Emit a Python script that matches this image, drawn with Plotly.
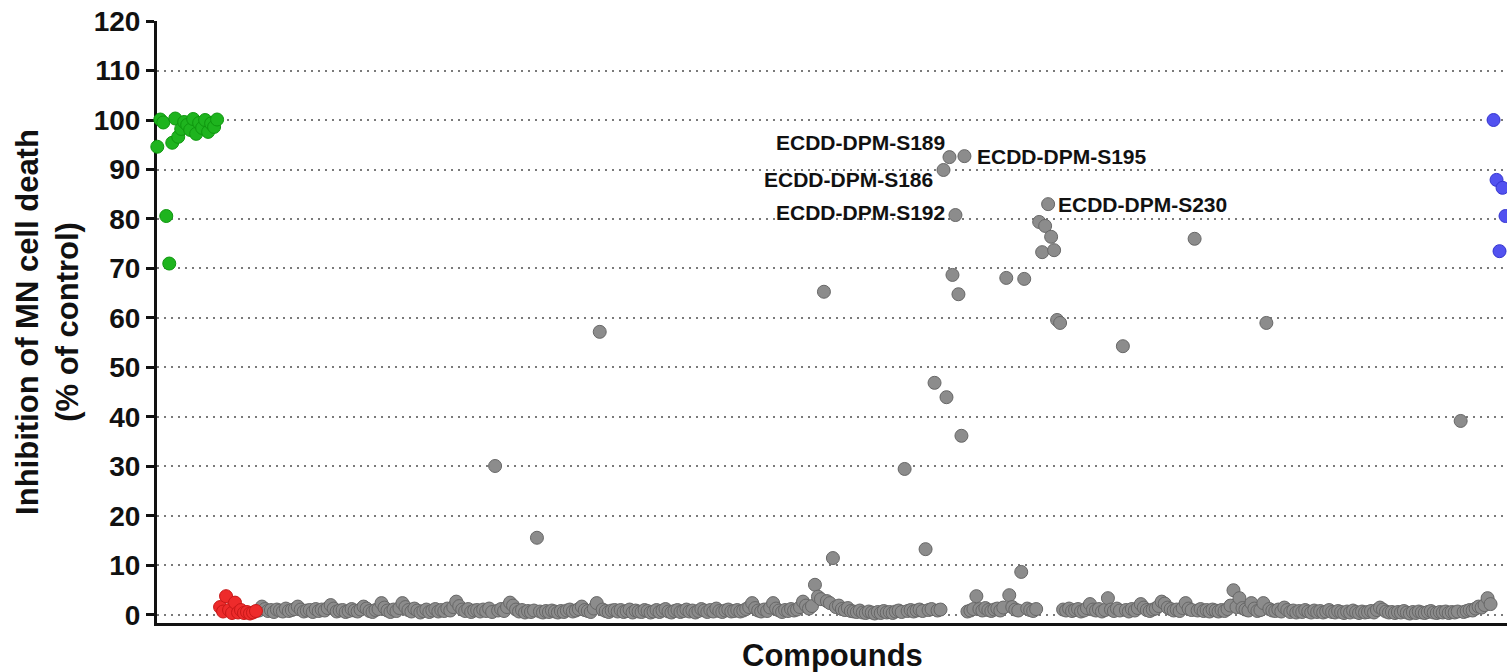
import plotly.graph_objects as go

# ---------------- data ----------------
# x = compound order index, y = inhibition of MN cell death (% of control)
green_idx = list(range(1, 22))
green_values = [94.6, 100.1, 99.5, 80.6, 71.0, 95.4, 100.3, 96.6, 98.2, 99.6, 99.0,
                98.0, 100.2, 97.2, 99.4, 98.4, 100.0, 97.6, 99.3, 98.6, 100.1]

red_idx = list(range(22, 35))
red_values = [1.6, 0.7, 3.8, 1.0, 0.4, 2.5, 0.5, 1.0, 0.4, 0.6, 0.3, 0.5, 0.8]

grey_start = 35
grey_values = [
    0.9, 1.7, 1.2, 0.8, 1.0, 0.6, 1.1, 0.9, 0.7, 1.3, 0.8, 1.0, 1.2, 1.7, 1.1, 0.7, 0.9, 1.0, 0.6, 1.2,
    0.8, 1.1, 0.9, 1.4, 2.0, 1.3, 0.7, 0.9, 1.0, 0.6, 0.8, 1.2, 0.9, 0.7, 1.1, 1.7, 1.3, 0.8, 0.6, 1.0,
    1.2, 2.4, 1.5, 0.9, 0.6, 1.1, 0.8, 1.4, 2.4, 1.6, 1.0, 0.7, 1.3, 0.9, 0.5, 0.8, 1.1, 0.6, 0.9, 1.2,
    0.7, 1.0, 0.8, 1.3, 0.9, 1.6, 2.7, 1.8, 1.1, 0.8, 1.2, 0.6, 0.9, 1.0, 0.7, 1.1, 0.8, 1.3, 0.6, 30.1,
    0.9, 1.2, 0.8, 1.6, 2.5, 1.9, 1.1, 0.7, 1.0, 0.5, 0.8, 0.6, 0.9, 15.6, 0.7, 0.5, 0.8, 0.6, 0.9, 0.7,
    0.5, 0.8, 0.6, 0.9, 1.1, 0.7, 0.9, 1.2, 1.7, 1.0, 0.8, 0.6, 1.3, 2.4, 57.2, 1.1, 0.8, 0.6, 0.9, 1.0,
    0.7, 1.0, 0.6, 0.8, 1.1, 0.5, 0.9, 0.7, 0.6, 1.0, 0.8, 0.5, 0.7, 1.0, 0.6, 0.9, 1.2, 0.7, 0.5, 0.8,
    1.0, 0.6, 0.8, 1.1, 0.7, 0.9, 0.5, 0.8, 1.2, 0.9, 0.6, 1.0, 0.7, 1.3, 0.8, 0.6, 0.9, 1.1, 0.7, 0.8,
    1.0, 0.7, 0.9, 1.2, 1.6, 2.4, 1.4, 0.9, 0.7, 1.1, 0.8, 1.5, 2.4, 1.3, 0.9, 0.6, 1.0, 0.8, 1.2, 0.9,
    1.1, 1.6, 2.7, 1.9, 1.3, 1.8, 6.1, 3.7, 3.2, 65.3, 2.8, 2.4, 11.5, 1.6, 1.9, 1.2, 1.0, 1.4, 0.8, 0.7,
    0.6, 0.9, 0.5, 0.4, 0.7, 0.5, 0.3, 0.6, 0.4, 0.8, 0.5, 0.6, 0.4, 0.7, 0.9, 0.6, 29.5, 0.8, 1.0, 0.7,
    0.9, 1.1, 0.8, 13.3, 1.0, 1.2, 46.9, 0.9, 1.1, 89.9, 44.0, 92.5, 68.7, 80.8, 64.8, 36.2, 92.7, 0.7, 0.9, 1.2,
    3.8, 1.2, 0.9, 1.4, 1.0, 0.8, 1.1, 1.3, 0.9, 1.5, 68.1, 4.0, 1.6, 1.1, 0.9, 8.7, 67.9, 1.3, 1.0, 0.8,
    1.2, 79.4, 73.3, 78.6, 83.0, 76.4, 73.7, 59.6, 59.0, 1.1, 0.9, 1.3, 0.8, 1.0, 1.2, 0.7, 0.9, 1.4, 2.2, 1.1,
    0.9, 1.2, 0.7, 1.0, 3.4, 1.1, 0.8, 1.3, 0.9, 54.3, 1.0, 0.7, 1.2, 0.9, 1.4, 2.2, 1.5, 1.0, 0.8, 1.1,
    1.3, 1.8, 2.7, 2.3, 1.5, 1.2, 0.9, 1.1, 0.8, 1.4, 2.4, 1.3, 1.0, 76.0, 0.9, 1.2, 0.8, 1.0, 0.7, 1.1,
    0.9, 0.7, 1.0, 0.8, 1.2, 1.9, 5.0, 1.6, 3.4, 1.4, 1.1, 0.9, 2.4, 1.3, 0.8, 1.0, 2.4, 59.0, 1.2, 0.9,
    0.8, 1.1, 0.7, 1.5, 1.0, 0.6, 0.9, 0.5, 0.8, 0.6, 1.0, 0.7, 0.5, 0.9, 0.6, 0.8, 0.5, 0.7, 1.0, 0.6,
    0.5, 0.8, 0.6, 0.4, 0.7, 0.5, 0.9, 0.6, 0.4, 0.7, 0.5, 0.6, 0.8, 0.5, 1.0, 1.5, 1.1, 0.7, 0.5, 0.6,
    0.4, 0.6, 0.5, 0.8, 0.5, 0.3, 0.6, 0.4, 0.7, 0.5, 0.4, 0.6, 0.8, 0.5, 0.4, 0.6, 0.5, 0.7, 0.4, 0.6,
    0.5, 0.7, 39.2, 0.6, 0.8, 1.0, 0.9, 1.3, 1.7, 1.5, 2.0, 3.4, 2.2,
]
grey_idx = list(range(grey_start, grey_start + len(grey_values)))

blue_idx = [448, 449, 450, 451, 452]
blue_values = [100.0, 87.9, 73.5, 86.3, 80.6]

# labelled compounds: name -> compound index
label_names = ["ECDD-DPM-S189", "ECDD-DPM-S195", "ECDD-DPM-S186", "ECDD-DPM-S192", "ECDD-DPM-S230"]
label_idx = [266, 271, 264, 268, 299]

y_ticks = list(range(0, 121, 10))

# ---------------- figure ----------------
FONT = "Liberation Sans, Arial, Helvetica, sans-serif"

fig = go.Figure()

def add_group(xs, ys, fill, edge):
    fig.add_trace(go.Scatter(
        x=xs, y=ys, mode="markers", cliponaxis=False, showlegend=False,
        marker=dict(size=13, color=fill, line=dict(color=edge, width=1)),
    ))

add_group(grey_idx, grey_values, "#8c8c8c", "#676767")
add_group(red_idx, red_values, "#ee2b2b", "#c81818")
add_group(green_idx, green_values, "#1eb41e", "#0e960e")
add_group(blue_idx, blue_values, "#5252f0", "#3535d0")

# label placement styles (anchor, x shift, y shift)
label_style = {
    "ECDD-DPM-S189": ("right", -2, 15),
    "ECDD-DPM-S195": ("left", 11, 0),
    "ECDD-DPM-S186": ("right", -9, -10),
    "ECDD-DPM-S192": ("right", -8, 3),
    "ECDD-DPM-S230": ("left", 8, 0),
}
for name, idx in zip(label_names, label_idx):
    anchor, xs, ys = label_style[name]
    fig.add_annotation(
        x=idx, y=grey_values[idx - grey_start], xref="x", yref="y",
        text=name, showarrow=False, xanchor=anchor, yanchor="middle",
        xshift=xs, yshift=ys,
        font=dict(family=FONT, size=21, color="#111111", weight="bold"),
    )

fig.add_annotation(
    x=0.5, y=0, xref="paper", yref="paper", yshift=-32,
    text="Compounds", showarrow=False, xanchor="center", yanchor="middle",
    font=dict(family=FONT, size=31, color="#111111", weight="bold"),
)

fig.update_layout(
    width=1507, height=672,
    margin=dict(l=157, r=0, t=21, b=49),
    paper_bgcolor="white", plot_bgcolor="white",
    font=dict(family=FONT, color="#111111"),
    xaxis=dict(
        range=[0.9, 452.5], showgrid=False, zeroline=False,
        showticklabels=False, ticks="",
        showline=True, linecolor="#111111", linewidth=3,
    ),
    yaxis=dict(
        range=[-1.62, 120], tickvals=y_ticks, zeroline=False,
        showgrid=True, gridcolor="#7a7a7a", gridwidth=2, griddash="2px,5px",
        showline=True, linecolor="#111111", linewidth=3, layer="below traces",
        ticks="outside", ticklen=8, tickwidth=3, tickcolor="#111111",
        tickfont=dict(family=FONT, size=28, color="#111111", weight="bold"),
        title=dict(
            text="Inhibition of MN cell death<br>(% of control)",
            font=dict(family=FONT, size=31, color="#111111", weight="bold"),
            standoff=6,
        ),
    ),
)

fig.write_html("out.html", config={"displayModeBar": False},
               post_script="document.body.style.margin='0px';")
